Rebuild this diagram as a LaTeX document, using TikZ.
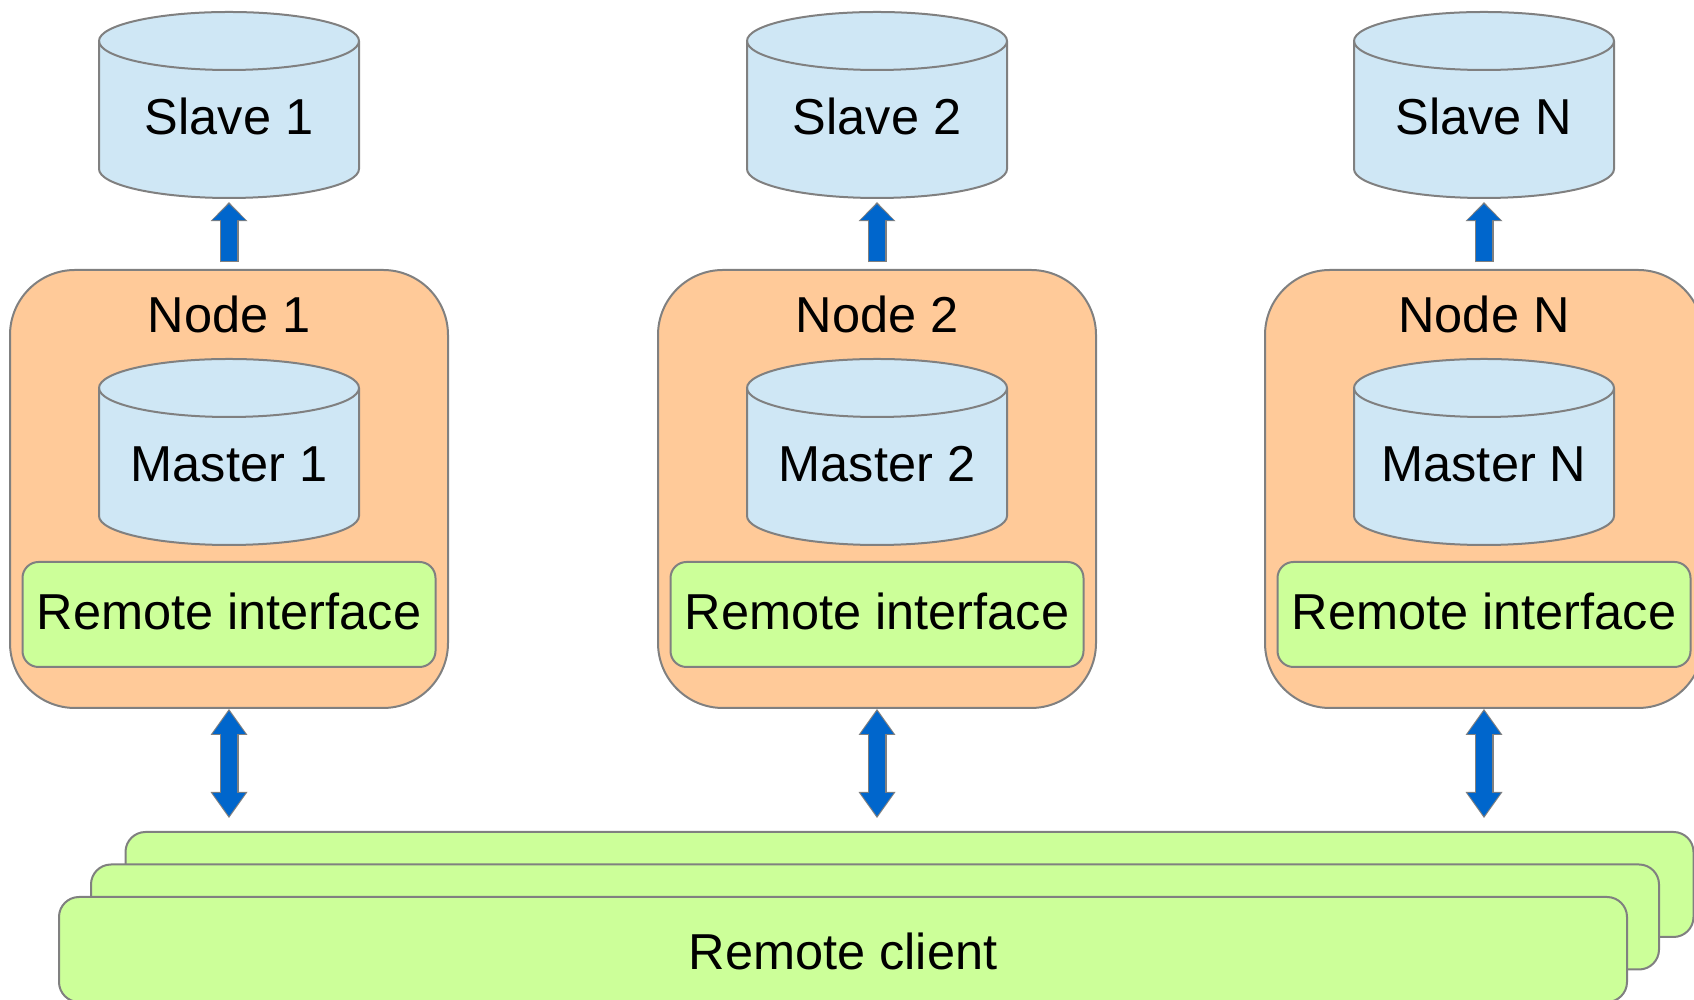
\documentclass[tikz,border=0pt]{standalone}
\usepackage{fontspec}
\setmainfont{Liberation Sans}
\usetikzlibrary{arrows.meta,calc}

\definecolor{dbblue}{HTML}{CFE7F5}
\definecolor{hostorange}{HTML}{FFCA99}
\definecolor{ifgreen}{HTML}{CCFF99}
\definecolor{edgegrey}{HTML}{808080}
\definecolor{flowblue}{HTML}{0066CC}

\tikzset{
  x=1pt, y=1pt,
  every node/.style={font=\fontsize{50.5}{60}\selectfont, text=black},
  hostbox/.style={draw=edgegrey, line width=2pt, fill=hostorange,
    rounded corners=65pt, minimum width=438pt, minimum height=438pt, inner sep=0pt},
  ifbox/.style={draw=edgegrey, line width=2pt, fill=ifgreen,
    rounded corners=16pt, minimum width=413pt, minimum height=105pt, inner sep=0pt},
  clientbox/.style={draw=edgegrey, line width=2pt, fill=ifgreen,
    rounded corners=20pt, minimum width=1568pt, minimum height=105pt, inner sep=0pt},
  dbspace/.style={minimum width=260pt, minimum height=186pt, inner sep=0pt},
  dbbody/.style={draw=edgegrey, line width=2pt, fill=dbblue},
  txt/.style={anchor=base, inner sep=0pt},
}

% database drum: name, centre x, top y, caption
\newcommand\dbdrum[4]{%
  \node[dbspace] (#1) at (#2,#3-93) {};
  \path[dbbody] (#2-130,#3-29) -- (#2-130,#3-157)
    arc[start angle=180,end angle=360,x radius=130pt,y radius=29pt]
    -- (#2+130,#3-29)
    arc[start angle=0,end angle=180,x radius=130pt,y radius=29pt] -- cycle;
  \draw[draw=edgegrey,line width=2pt] (#2-130,#3-29)
    arc[start angle=180,end angle=360,x radius=130pt,y radius=29pt];
  \node[txt] (#1-text) at (#2,#3-123) {#4};
}

% one host: suffix, centre x, index label
\newcommand\host[3]{%
  \node[hostbox] (n#1) at (#2,511) {};
  \node[txt] (n#1-title) at (#2,667) {Node #3};
  \dbdrum{m#1}{#2}{641}{Master #3}
  \node[ifbox] (r#1) at (#2,385.5) {};
  \node[txt] (r#1-text) at (#2,370) {Remote interface};
  \dbdrum{s#1}{#2}{988}{Slave #3}
}

% thick blue arrow with a thin grey rim
\newcommand\uplink[2]{%
  \draw[draw=edgegrey, line width=19pt, shorten >=-2pt, shorten <=-1.5pt,
    -{Triangle[width=37pt,length=19pt,line width=0pt]}] #1 -- #2;
  \draw[draw=flowblue, line width=16pt,
    -{Triangle[width=33pt,length=16pt,line width=0pt]}] #1 -- #2;
}
\newcommand\bothlink[2]{%
  \draw[draw=edgegrey, line width=19pt, shorten >=-2pt, shorten <=-2pt,
    {Triangle[width=37pt,length=26pt,line width=0pt]}-{Triangle[width=37pt,length=26pt,line width=0pt]}] #1 -- #2;
  \draw[draw=flowblue, line width=16pt,
    {Triangle[width=33pt,length=23pt,line width=0pt]}-{Triangle[width=33pt,length=23pt,line width=0pt]}] #1 -- #2;
}

\begin{document}
\begin{tikzpicture}
  \useasboundingbox (0,0) rectangle (1694,1000);
  \clip (0,0) rectangle (1694,1000);

  \host{1}{229}{1}
  \host{2}{877}{2}
  \host{3}{1484}{N}

  % stacked client windows
  \node[clientbox] (client3) at (909.5,115.5) {};
  \node[clientbox] (client2) at (875,83) {};
  \node[clientbox] (client1) at (843,50.5) {};
  \node[txt] (client-text) at (843,30.5) {Remote client};

  \foreach \k in {1,2,3} {
    \uplink{($(n\k.north)+(0,8)$)}{($(s\k.south)+(0,-6)$)}
    \bothlink{($(n\k.south)+(0,-2)$)}{($(n\k.south |- client3.north)+(0,15)$)}
  }
\end{tikzpicture}
\end{document}
